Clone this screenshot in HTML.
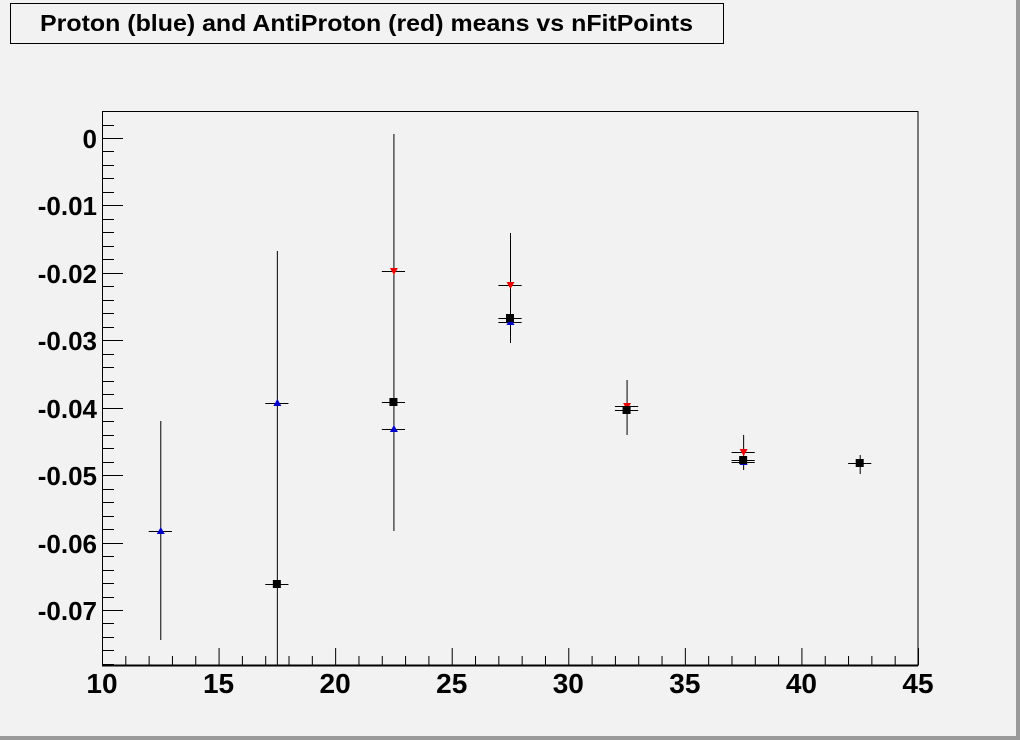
<!DOCTYPE html>
<html><head><style>
html,body{margin:0;padding:0;background:#f2f2f2}
svg{display:block}
text{font-family:"Liberation Sans",sans-serif;font-weight:bold}
</style></head><body>
<svg id="s" width="1020" height="740" xmlns="http://www.w3.org/2000/svg">
<rect x="0" y="0" width="1020" height="740" fill="#f2f2f2"/>
<rect x="1016" y="0" width="4" height="740" fill="#9a9a9a"/>
<rect x="0" y="736" width="1020" height="4" fill="#9a9a9a"/>
<rect x="10.5" y="3.5" width="713" height="40" fill="#f2f2f2" stroke="#000" stroke-width="1"/>
<text x="40" y="31" font-size="23" textLength="653" lengthAdjust="spacingAndGlyphs">Proton (blue) and AntiProton (red) means vs nFitPoints</text>
<rect x="102.5" y="111.5" width="815.5" height="554" fill="none" stroke="#000" stroke-width="1"/>
<line x1="102" y1="665.5" x2="918" y2="665.5" stroke="#000" stroke-width="2"/>
<g id="ticks" stroke="#000" stroke-width="1"></g>
<g id="labels"></g>
<g id="data"></g>
</svg>
<script>
var NS="http://www.w3.org/2000/svg";
function el(p,t,a,txt){var e=document.createElementNS(NS,t);for(var k in a)e.setAttribute(k,a[k]);if(txt!==undefined)e.textContent=txt;document.getElementById(p).appendChild(e);return e;}
function X(v){return 102+(v-10)*23.314;}
function Y(v){return 138-v*6743;}
for(var v=10;v<=45;v++){var x=X(v)+0.5;var L=(v%5==0)?17:9;el("ticks","line",{x1:x,y1:665,x2:x,y2:665-L});
 if(v%5==0)el("labels","text",{x:X(v),y:693,"text-anchor":"middle","font-size":28},String(v));}
for(var i=2;i>=-39;i--){var v=i*0.002;var y=Math.round(Y(v))+0.5;if(y<112||y>665)continue;var maj=(i%5==0);
 el("ticks","line",{x1:102,y1:y,x2:102+(maj?21:12),y2:y});
 if(maj){var s=(i==0)?"0":"-0.0"+(-i/5);el("labels","text",{x:97,y:y+9.5,"text-anchor":"end","font-size":26},s);}}
function err(x,y1,y2){el("data","line",{x1:X(x)+0.5,y1:y1,x2:X(x)+0.5,y2:y2,stroke:"#000","stroke-width":1});}
function hb(x,y){el("data","line",{x1:X(x)-11.6,y1:y+0.5,x2:X(x)+11.6,y2:y+0.5,stroke:"#000","stroke-width":1});}
function sq(x,y){hb(x,y);el("data","rect",{x:X(x)-4,y:y-4,width:8,height:8,fill:"#000"});}
function up(x,y){hb(x,y);var c=X(x)+0.5;el("data","polygon",{points:(c-4)+","+(y+3)+" "+(c+4)+","+(y+3)+" "+c+","+(y-4),fill:"#0000cc"});}
function dn(x,y){hb(x,y);var c=X(x)+0.5;el("data","polygon",{points:(c-4)+","+(y-3)+" "+(c+4)+","+(y-3)+" "+c+","+(y+4),fill:"#ee0000"});}
err(12.5,421,640);up(12.5,531);
err(17.5,251,665);up(17.5,403);sq(17.5,584);
err(22.5,134,531);dn(22.5,271);sq(22.5,402);up(22.5,429);
err(27.5,233,343);dn(27.5,285);up(27.5,322);sq(27.5,318);
err(32.5,380,435);dn(32.5,406);sq(32.5,410);
err(37.5,435,470);dn(37.5,452);up(37.5,462);sq(37.5,460);
err(42.5,455,474);sq(42.5,463);
</script>
</body></html>
